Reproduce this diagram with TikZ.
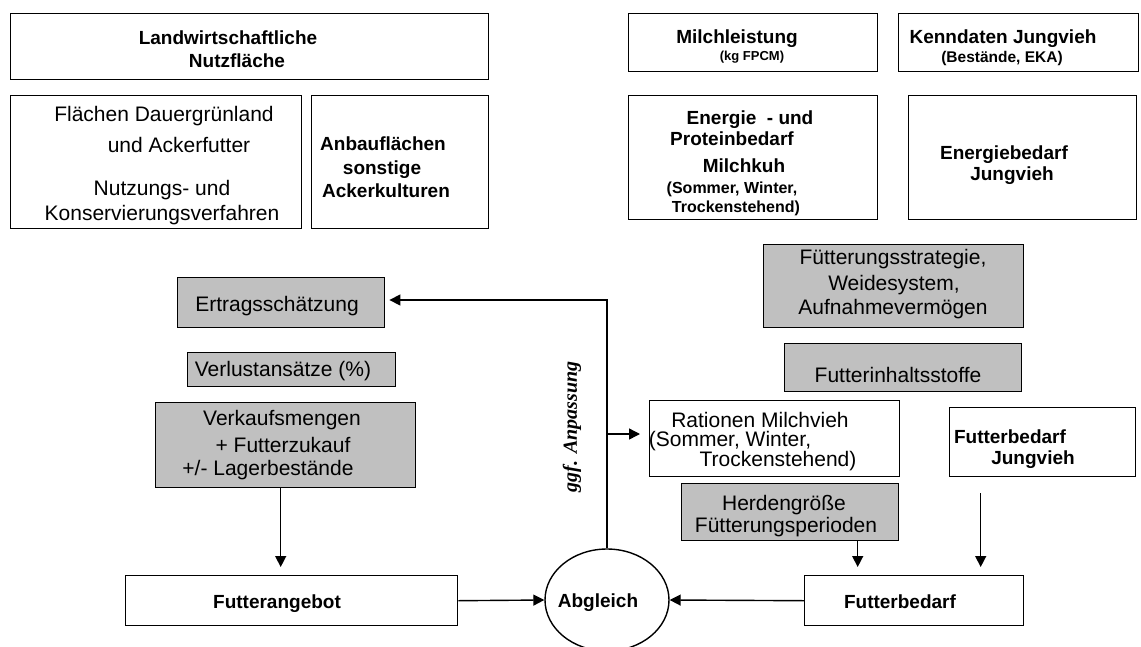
\documentclass[tikz,border=0pt]{standalone}
\usepackage{fontspec}
\setmainfont{Liberation Sans}
\newfontfamily\anpfont{Liberation Serif}
\usetikzlibrary{arrows.meta,shapes.geometric}
\definecolor{boxgray}{RGB}{192,192,192}

\begin{document}
\begin{tikzpicture}[x=1pt,y=-1pt,
  box/.style={draw=black, line width=1.4pt, inner sep=0pt, anchor=north west},
  greybox/.style={box, fill=boxgray},
  txt/.style={inner sep=0pt, anchor=base, font=\fontsize{21}{24}\selectfont},
  btxt/.style={inner sep=0pt, anchor=base, font=\fontsize{19}{22}\selectfont\bfseries},
  stxt/.style={inner sep=0pt, anchor=base, font=\fontsize{13}{15}\selectfont\bfseries},
  mtxt/.style={inner sep=0pt, anchor=base, font=\fontsize{15.5}{18}\selectfont\bfseries},
  ltxt/.style={inner sep=0pt, anchor=base, font=\fontsize{16}{19}\selectfont\bfseries},
  conn/.style={line width=1.4pt, -{Triangle[length=11pt,width=11pt]}}]

\useasboundingbox (0,0) rectangle (1141,646);

% --- land use (top left) ---
\node[box, minimum width=478pt, minimum height=66pt] (lnf) at (10,13) {};
\node[btxt] (lnf1) at (228,44) {Landwirtschaftliche};
\node[btxt] (lnf2) at (237,67) {Nutzfläche};

\node[box, minimum width=291pt, minimum height=133pt] (fdg) at (10,95) {};
\node[txt] (fdg1) at (164,121) {Flächen Dauergrünland};
\node[txt] (fdg2) at (179,152) {und Ackerfutter};
\node[txt] (fdg3) at (162,195) {Nutzungs- und};
\node[txt] (fdg4) at (162,220) {Konservierungsverfahren};

\node[box, minimum width=177pt, minimum height=133pt] (anb) at (311,95) {};
\node[btxt] (anb1) at (383,150) {Anbauflächen};
\node[btxt] (anb2) at (382,174) {sonstige};
\node[btxt] (anb3) at (386,197) {Ackerkulturen};

% --- herd data (top right) ---
\node[box, minimum width=249pt, minimum height=58pt] (mil) at (628,13) {};
\node[btxt] (mil1) at (737,43) {Milchleistung};
\node[stxt] (mil2) at (752,60) {(kg FPCM)};

\node[box, minimum width=240pt, minimum height=58pt] (ken) at (898,13) {};
\node[btxt] (ken1) at (1003,43) {Kenndaten Jungvieh};
\node[mtxt] (ken2) at (1002,62) {(Bestände, EKA)};

\node[box, minimum width=249pt, minimum height=124pt] (epb) at (628,95) {};
\node[btxt] (epb1) at (750,124) {Energie\ \ - und};
\node[btxt] (epb2) at (732,145) {Proteinbedarf};
\node[btxt] (epb3) at (744,172) {Milchkuh};
\node[ltxt] (epb4) at (732,193) {(Sommer, Winter,};
\node[ltxt] (epb5) at (736,212) {Trockenstehend)};

\node[box, minimum width=228pt, minimum height=124pt] (ejv) at (908,95) {};
\node[btxt] (ejv1) at (1004,159) {Energiebedarf};
\node[btxt] (ejv2) at (1012,180) {Jungvieh};

% --- feed supply (left) ---
\node[greybox, minimum width=207pt, minimum height=50pt] (ert) at (177,277) {};
\node[txt] (ert1) at (277,311) {Ertragsschätzung};

\node[greybox, minimum width=208pt, minimum height=34pt] (verl) at (187,352) {};
\node[txt] (verl1) at (283,376) {Verlustansätze (\%)};

\node[greybox, minimum width=260pt, minimum height=85pt] (verk) at (155,402) {};
\node[txt] (verk1) at (282,425) {Verkaufsmengen};
\node[txt] (verk2) at (283,452) {+ Futterzukauf};
\node[txt] (verk3) at (268,475) {+/- Lagerbestände};

\node[box, minimum width=332pt, minimum height=50pt] (fa) at (125,575) {};
\node[btxt] (fa1) at (277,608) {Futterangebot};

% --- balance ---
\node[draw=black, line width=1.4pt, ellipse, inner sep=0pt,
      minimum width=124pt, minimum height=102pt] (abg) at (607,600) {};
\node[btxt] (abg1) at (598,607) {Abgleich};

% --- feed demand (right) ---
\node[greybox, minimum width=260pt, minimum height=83pt] (fst) at (763,244) {};
\node[txt] (fst1) at (893,264) {Fütterungsstrategie,};
\node[txt] (fst2) at (894,290) {Weidesystem,};
\node[txt] (fst3) at (893,314) {Aufnahmevermögen};

\node[greybox, minimum width=237pt, minimum height=48pt] (fis) at (784,343) {};
\node[txt] (fis1) at (898,382) {Futterinhaltsstoffe};

\node[box, minimum width=250pt, minimum height=76pt] (rat) at (649,400) {};
\node[txt] (rat1) at (760,427) {Rationen Milchvieh};
\node[txt] (rat2) at (730,446) {(Sommer, Winter,};
\node[txt] (rat3) at (778,466) {Trockenstehend)};

\node[box, minimum width=186pt, minimum height=69pt] (fjv) at (949,407) {};
\node[btxt] (fjv1) at (1010,443) {Futterbedarf};
\node[btxt] (fjv2) at (1033,464) {Jungvieh};

\node[greybox, minimum width=217pt, minimum height=57pt] (herd) at (681,483) {};
\node[txt] (herd1) at (784,510) {Herdengröße};
\node[txt] (herd2) at (786,532) {Fütterungsperioden};

\node[box, minimum width=219pt, minimum height=50pt] (fb) at (804,575) {};
\node[btxt] (fb1) at (900,608) {Futterbedarf};

% --- feedback label ---
\node[rotate=90, inner sep=0pt,
      font=\anpfont\bfseries\itshape\fontsize{20}{23}\selectfont] (anp) at (572,427) {ggf. Anpassung};

% --- connectors ---
\coordinate (vk) at ([xshift=-5pt]verk.south);
\draw[conn, shorten >=8pt] (vk) -- (vk |- fa.north);
\draw[conn] (fa.east) -- (abg.west);
\draw[conn] (fb.west) -- (abg.east);

\coordinate (turn) at (abg.north |- 0,300);
\coordinate (ertin) at (ert.east |- turn);
\draw[conn, shorten >=4pt] (abg.north) -- (turn) -- (ertin);

\coordinate (br) at (abg.north |- 0,434);
\draw[conn, shorten >=9pt] (br) -- (br -| rat.west);

\coordinate (hd) at ([xshift=67.5pt]herd.south);
\draw[conn, shorten >=8pt] (hd) -- (hd |- fb.north);

\coordinate (jv) at ([xshift=-62pt,yshift=-16pt]fjv.south);
\draw[conn, shorten >=8pt] (jv) -- (jv |- fb.north);
\end{tikzpicture}
\end{document}
